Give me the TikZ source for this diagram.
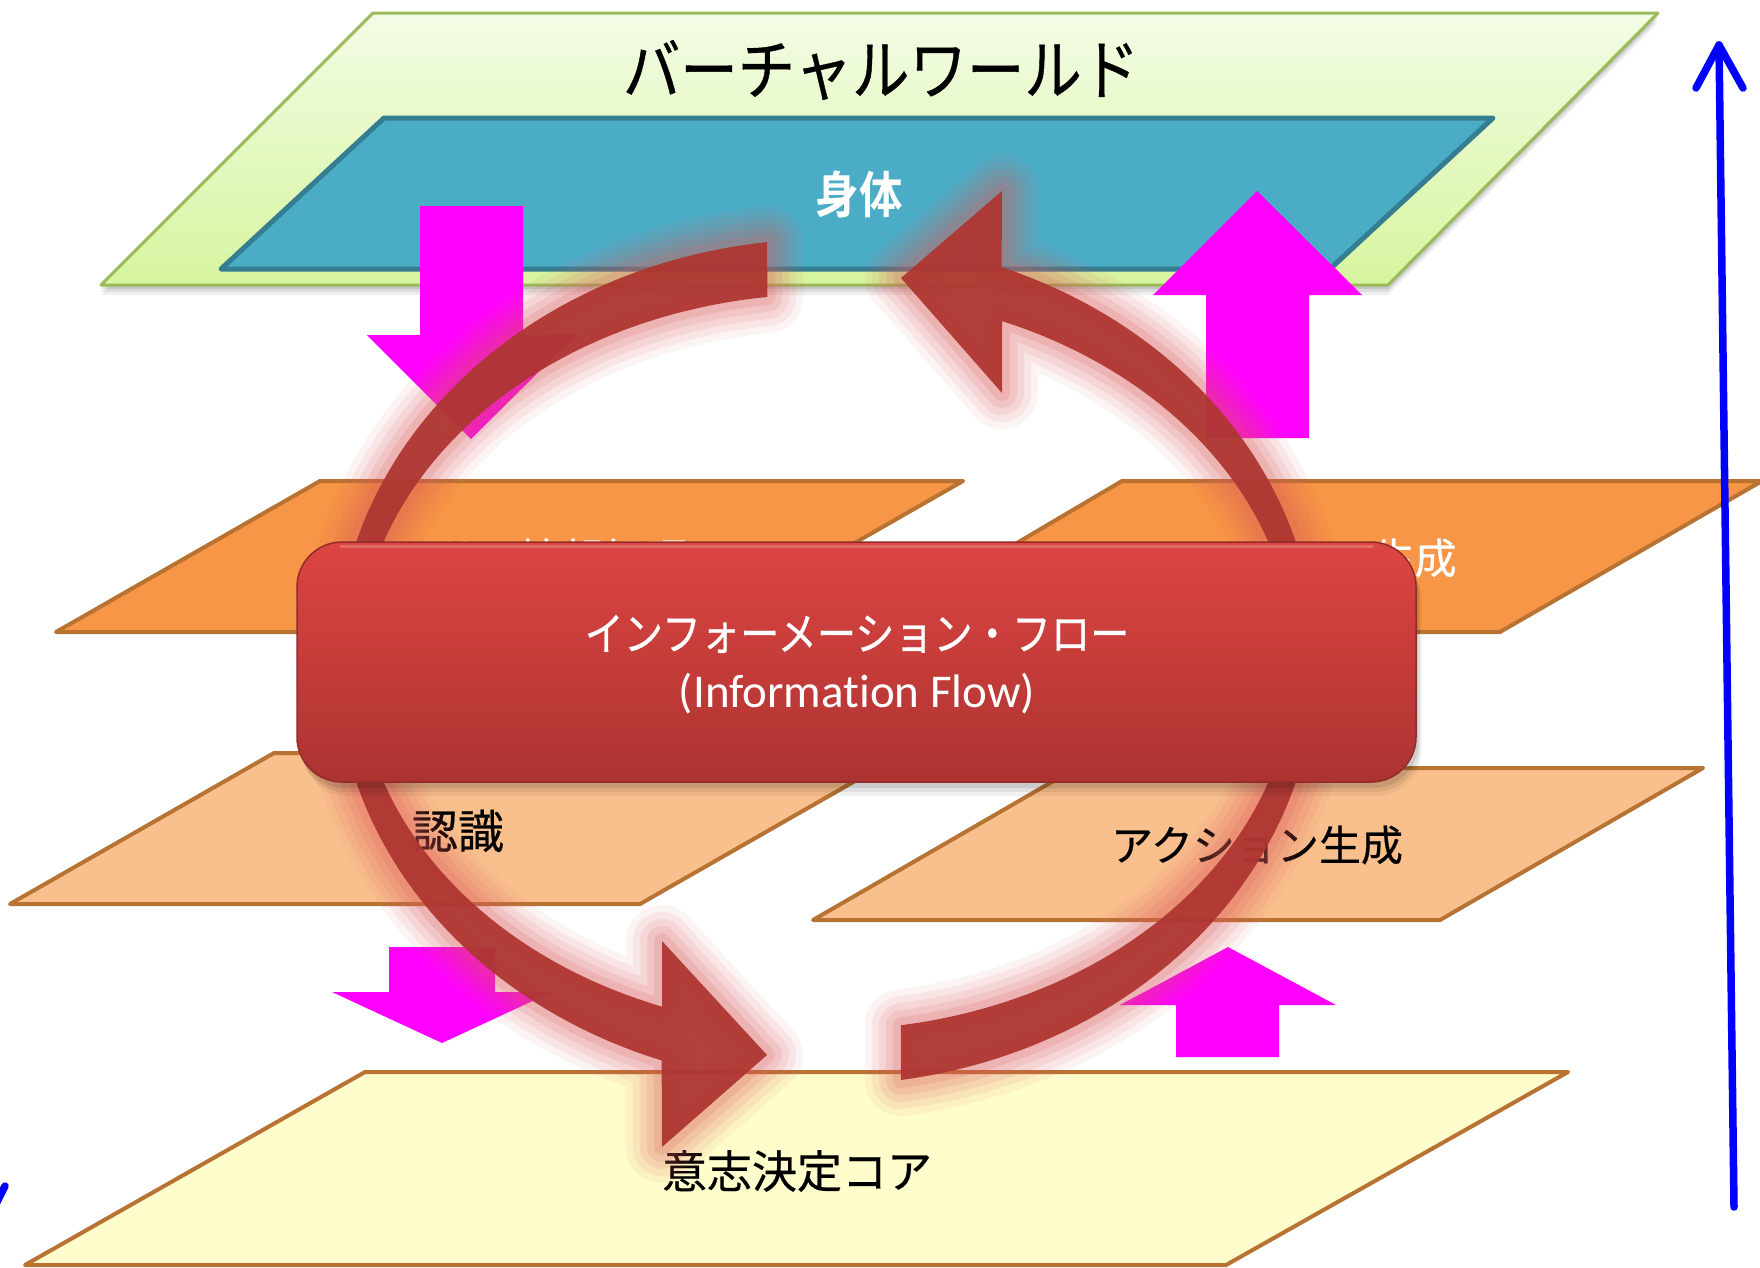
\documentclass[tikz,border=0pt]{standalone}
\usepackage{fontspec}
\newfontfamily\jpfont[FakeBold=0.5]{Noto Sans CJK JP}
\newfontfamily\jpnarrow[FakeStretch=0.87,FakeBold=0.6]{Noto Sans CJK JP}
\newfontfamily\jpnarrowbold[FakeStretch=0.87,BoldFont={* Bold}]{Noto Sans CJK JP}
\newfontfamily\calfont[Ligatures=NoCommon]{Carlito}
\definecolor{greenedge}{HTML}{9BBB59}
\definecolor{greentop}{HTML}{F3FCE6}
\definecolor{greenbot}{HTML}{D6F59E}
\definecolor{bodyfill}{HTML}{4BACC6}
\definecolor{bodyedge}{HTML}{357D91}
\definecolor{orangefill}{HTML}{F79646}
\definecolor{peachfill}{HTML}{F9C08E}
\definecolor{yellowfill}{HTML}{FFFDCB}
\definecolor{brownedge}{HTML}{B87333}
\definecolor{arcred}{HTML}{AE3632}
\definecolor{glowred}{HTML}{DD5A5A}
\definecolor{boxtop}{HTML}{DC4542}
\definecolor{boxbot}{HTML}{AC3331}
\definecolor{mag}{HTML}{FF00FF}
\newcommand\LArcPath{plot[domain=96.9:250.4,samples=90,variable=\t] ({826+490*cos(\t)},{662-423*sin(\t)}) -- (662,1147) -- (767,1055) -- (662,941) -- plot[domain=249.5:97.2,samples=90,variable=\t] ({826+468*cos(\t)},{662-368*sin(\t)}) -- cycle}
\newcommand\RArcPath{plot[domain=278.8:429,samples=90,variable=\t] ({826+490*cos(\t)},{662-423*sin(\t)}) -- (1002,191) -- (901,278) -- (1002,393) -- plot[domain=427.9:279.2,samples=90,variable=\t] ({826+468*cos(\t)},{662-368*sin(\t)}) -- cycle}
\begin{document}
\begin{tikzpicture}[x=1pt,y=-1pt,
  plane/.style={draw=brownedge, line width=4pt, line join=round},
  jp/.style={font=\jpfont\fontsize{#1}{#1}\selectfont, inner sep=0pt},
  jpn/.style={font=\jpnarrow\fontsize{#1}{#1}\selectfont, inner sep=0pt},
  jpnb/.style={font=\jpnarrowbold\bfseries\fontsize{#1}{#1}\selectfont, inner sep=0pt},
  blockarrow/.style={fill=mag, draw=none},
  arccore/.style={fill=arcred, fill opacity=0.95, draw=none},
  blueline/.style={draw=blue, line width=7.5pt, line cap=round, line join=round}]
\useasboundingbox (0,0) rectangle (1760,1267);
\fill[white] (0,0) rectangle (1760,1267);

% virtual world plane with shadow
\foreach \d/\o in {10/0.06,7/0.08,4/0.1}{
  \fill[black, opacity=\o] (373,13+\d) -- (1658,13+\d) -- (1388,285+\d) -- (101,285+\d) -- cycle;}
\path[top color=greentop, bottom color=greenbot, draw=greenedge, line width=3pt, line join=round]
  (373,13) -- (1658,13) -- (1388,285) -- (101,285) -- cycle;
\path[fill=bodyfill, draw=bodyedge, line width=5pt, line join=round]
  (384,118) -- (1493,118) -- (1330,269) -- (221,269) -- cycle;
\node[jpn=66] (vw) at (881,70) {バーチャルワールド};
\node[jpnb=50, text=white] (body) at (859,194) {身体};

% upper planes
\path[plane, fill=orangefill] (320,481) -- (963,481) -- (699,632) -- (56,632) -- cycle;
\path[plane, fill=orangefill] (1122,481) -- (1762,481) -- (1500,632) -- (866,632) -- cycle;
\node[jp=42, text=white] (perc) at (520,558) {センサー情報処理};
\node[jp=42, text=white] (motion) at (1310,558) {モーション生成};

% lower planes
\path[plane, fill=peachfill] (274,753) -- (904,753) -- (640,904) -- (10,904) -- cycle;
\path[plane, fill=peachfill] (1076,768) -- (1703,768) -- (1440,920) -- (813,920) -- cycle;
\node[jp=46] (recog) at (458,831) {認識};
\node[jp=42] (action) at (1257,845) {アクション生成};

% decision core
\path[plane, fill=yellowfill] (365,1072) -- (1568,1072) -- (1226,1265) -- (25,1265) -- cycle;
\node[jp=45] (core) at (797,1171) {意志決定コア};

% magenta block arrows
\path[blockarrow] (420,206) -- (523,206) -- (523,335) -- (576,335) -- (471,439) -- (367,335) -- (420,335) -- cycle;
\path[blockarrow] (1206,438) -- (1309,438) -- (1309,295) -- (1362,295) -- (1257,191) -- (1153,295) -- (1206,295) -- cycle;
\path[blockarrow] (389,947) -- (495,947) -- (495,992) -- (552,992) -- (442,1043) -- (332,992) -- (389,992) -- cycle;
\path[blockarrow] (1176,1057) -- (1279,1057) -- (1279,1005) -- (1336,1005) -- (1228,947) -- (1120,1005) -- (1176,1005) -- cycle;

% circular arrows with glow
\foreach \w/\o in {72/0.07,58/0.09,44/0.11,30/0.13,16/0.17}{
  \draw[glowred, line width=\w pt, opacity=\o, line join=round] \LArcPath;
  \draw[glowred, line width=\w pt, opacity=\o, line join=round] \RArcPath;}
\path[arccore] \LArcPath;
\path[arccore] \RArcPath;

% central box
\foreach \d/\o in {14/0.05,10/0.07,6/0.09}{
  \fill[black, opacity=\o, rounded corners=45pt] (297+\d*0.4,542+\d) rectangle (1416+\d*0.4,782+\d);}
\path[rounded corners=45pt, top color=boxtop, bottom color=boxbot, draw=boxbot!85!black, line width=1.5pt]
  (297,542) rectangle (1416,782);
\draw[white, opacity=0.2, line width=3pt] (340,546) -- (1373,546);
\node[jpn=45, text=white] (flowjp) at (857,634) {インフォーメーション・フロー};
\node[font=\calfont\fontsize{47}{47}\selectfont, text=white, inner sep=0pt] (flowen) at (857,694) {(Information Flow)};

% blue axis arrow
\coordinate (axisbot) at (1734,1207);
\coordinate (axistop) at (1719,45);
\draw[blueline] (axisbot) -- (axistop);
\draw[blueline] (1696,88) -- (axistop) -- (1743,88);
\coordinate (stubA) at (5,1186);
\coordinate (stubB) at (-3,1202);
\draw[blueline] (stubA) -- (stubB);
\end{tikzpicture}
\end{document}
